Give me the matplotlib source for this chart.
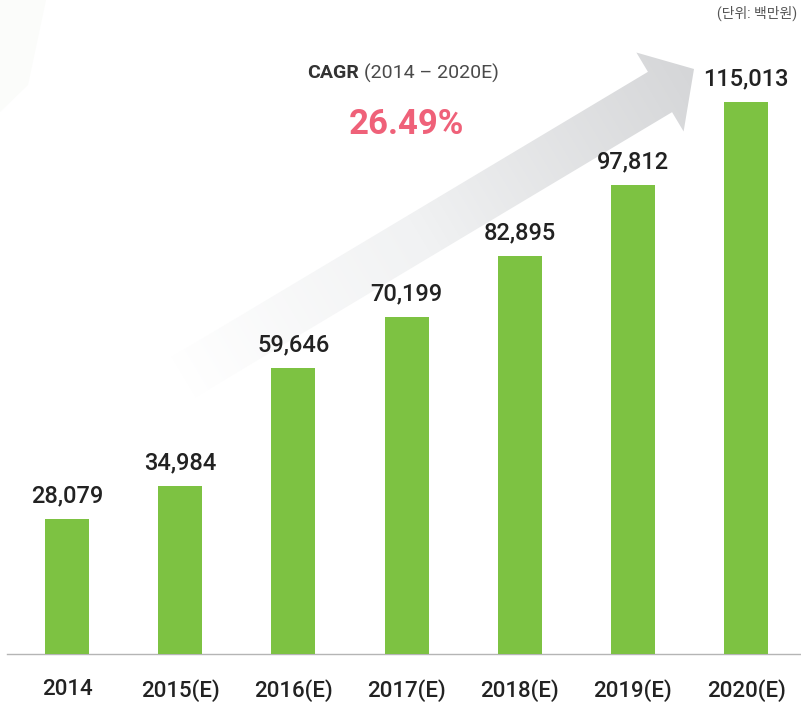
import numpy as np
import matplotlib
matplotlib.use("Agg")
import matplotlib.pyplot as plt
from matplotlib.patches import Polygon
from matplotlib.colors import LinearSegmentedColormap

# data
years = ["2014", "2015(E)", "2016(E)", "2017(E)", "2018(E)", "2019(E)", "2020(E)"]
values = [28079, 34984, 59646, 70199, 82895, 97812, 115013]
cagr_label = "26.49%"
unit_label = "(단위: 백만원)"

plt.rcParams['font.family'] = ['Roboto', 'Noto Sans CJK KR', 'DejaVu Sans']

W, H = 801, 702
fig = plt.figure(figsize=(W / 100, H / 100), dpi=100)

# background overlay in pixel coords (arrow, corner shape)
bg = fig.add_axes([0, 0, 1, 1], zorder=0)
bg.set_xlim(0, W)
bg.set_ylim(H, 0)
bg.axis('off')

# faint shape in top-left corner
bg.add_patch(Polygon([(0, 0), (46, 0), (28, 85), (0, 112)], closed=True,
                     facecolor='#fbfcfa', edgecolor='none'))

# gradient arrow
tail = np.array([182.0, 378.0])
base = np.array([660.0, 92.0])
tip = np.array([694.0, 69.0])
shaft_w = 47
head_w = 92
d = (base - tail) / np.linalg.norm(base - tail)
n = np.array([-d[1], d[0]])
verts = [tail + n * shaft_w / 2, base + n * shaft_w / 2, base + n * head_w / 2,
         tip, base - n * head_w / 2, base - n * shaft_w / 2, tail - n * shaft_w / 2]
arrow = Polygon(verts, closed=True, facecolor='none', edgecolor='none')
bg.add_patch(arrow)
xx, yy = np.meshgrid(np.arange(W), np.arange(H))
proj = ((xx - tail[0]) * d[0] + (yy - tail[1]) * d[1]) / np.linalg.norm(tip - tail)
grad = np.clip(proj, 0, 1) ** 0.9
cmap = LinearSegmentedColormap.from_list('g', ['#ffffff', '#f1f2f3', '#d5d6d8'])
im = bg.imshow(grad, cmap=cmap, extent=(0, W, H, 0), vmin=0, vmax=1,
               interpolation='bilinear', zorder=1)
im.set_clip_path(arrow)

# main bar axes
base_px = 654
ax = fig.add_axes([0, (H - base_px) / H, 1, base_px / H], zorder=2)
ax.patch.set_alpha(0)
step = 113.2
x0 = 67
x = np.arange(len(years))
ax.set_xlim(-x0 / step, (W - x0) / step)
px_per_unit = 552 / 115013
ax.set_ylim(0, base_px / px_per_unit)

ax.bar(x, values, width=44 / step, color='#7dc242', zorder=3)
for xi, v in zip(x, values):
    ax.annotate(f"{v:,}", (xi, v), xytext=(0, 12), textcoords='offset points',
                ha='center', va='baseline', fontsize=17, fontweight='medium',
                color='#222222')

for s in ['top', 'right', 'left']:
    ax.spines[s].set_visible(False)
ax.spines['bottom'].set_color('#b5b5b5')
ax.spines['bottom'].set_linewidth(1)
ax.spines['bottom'].set_bounds(-(x0 - 7) / step, (W - x0) / step)
ax.set_yticks([])
ax.set_xticks(x)
ax.set_xticklabels(years, fontsize=16, fontweight='medium', color='#222222')
ax.tick_params(axis='x', length=0, pad=18)

# annotations
t1 = bg.text(307, 73, "CAGR", fontsize=14, fontweight='bold', color='#333333',
             ha='left', va='center')
bg.annotate("(2014 – 2020E)", xy=(1, 0.5), xycoords=t1, xytext=(4, 0),
            textcoords='offset points', ha='left', va='center',
            fontsize=14, fontweight='normal', color='#4a4a4a')
bg.text(406, 125, cagr_label, fontsize=25, fontweight='bold', color='#ef6179',
        ha='center', va='center')
bg.text(797, 13, unit_label, fontsize=10, color='#555555', ha='right', va='center')

fig.savefig("out.png", dpi=100)
